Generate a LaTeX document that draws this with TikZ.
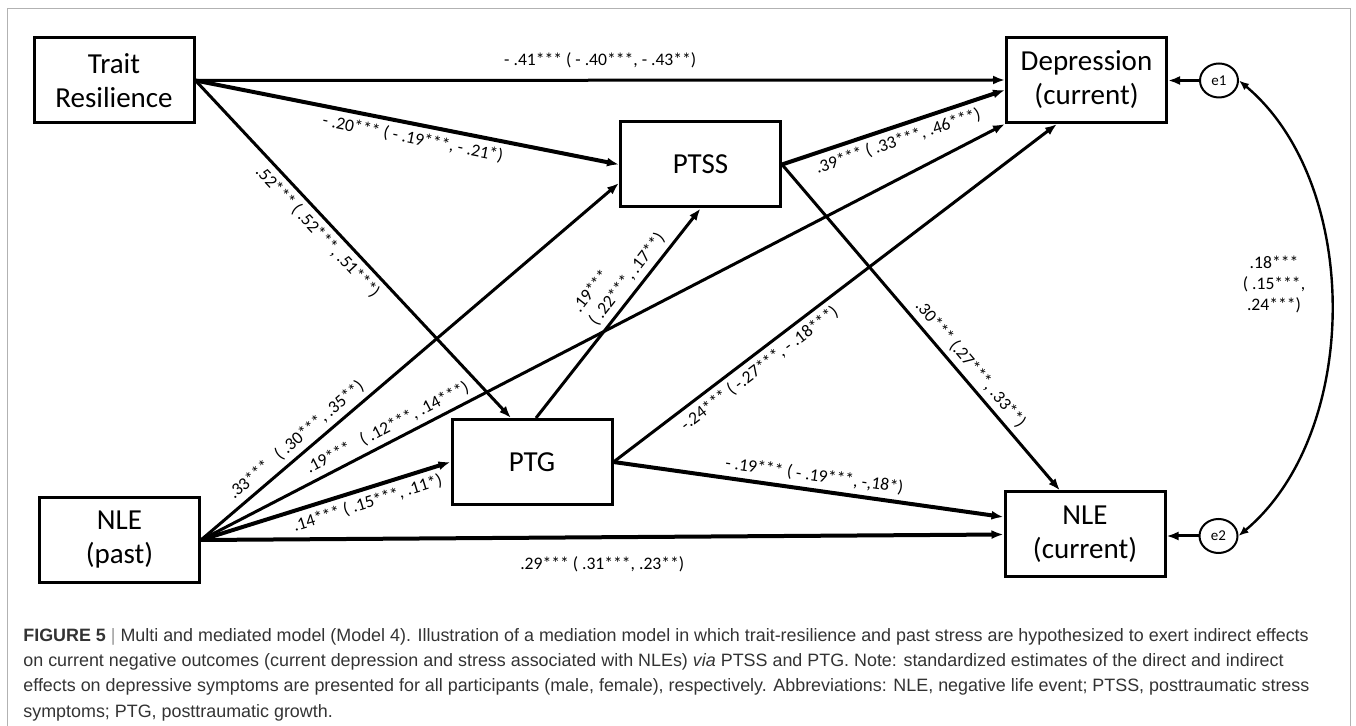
\documentclass[tikz,border=0pt]{standalone}
\usepackage{fontspec}
\setmainfont{Carlito}
\newfontfamily\capfont{Liberation Sans}
\usetikzlibrary{calc}
\usetikzlibrary{arrows.meta}
\usetikzlibrary{shapes.geometric}
\tikzset{
	var box/.style={draw, line width=1.5pt, minimum width=80pt, minimum height=42.5pt, align=center, font=\fontsize{14.5}{17}\selectfont},
	err node/.style={draw, ellipse, line width=1pt, minimum width=19pt, minimum height=17pt, inner sep=0pt, font=\fontsize{7.5}{9}\selectfont},
	coef/.style={font=\fontsize{8.8}{10.5}\selectfont, inner sep=2.5pt},
	effect/.style={->, line width=1.5pt},
	strong effect/.style={->, line width=2pt},
}

\begin{document}
\begin{tikzpicture}[x=0.5pt, y=-0.5pt, >={Latex[length=6pt,width=4.5pt]}]
	\useasboundingbox (0,0) rectangle (1356,726);
	\draw[line width=0.75pt, black!30] (7.5,726) -- (7.5,8.5) -- (1350.5,8.5) -- (1350.5,726);
	% variables
	\node[var box] (trait) at (114,80.5) {Trait\\Resilience};
	\node[var box] (ptss) at (700.5,164.5) {PTSS};
	\node[var box] (dep) at (1086.5,80) {Depression\\(current)};
	\node[var box] (ptg) at (532,462) {PTG};
	\node[var box] (nlep) at (119.5,540) {NLE\\(past)};
	\node[var box] (nlec) at (1085,534.5) {NLE\\(current)};
	\node[err node] (e1) at (1219,80.5) {e1};
	\node[err node] (e2) at (1218.5,536) {e2};
	%
	\draw[effect] (trait.east) -- (dep.west) node[coef, pos=0.5, above=3pt] (l-td) {- .41*** ( - .40***, - .43**)};
	\draw[strong effect] (trait.east) -- (ptss.west) node[coef, pos=0.52, sloped, below] (l-tp) {- .20*** ( - .19***, - .21*)};
	\draw[effect] (trait.east) -- ($(ptg.north)+(-21,0)$) node[coef, pos=0.42, sloped, below] (l-tg) {.52*** ( .52***, .51***)};
	%
	\draw[strong effect] (ptss.east) -- ($(dep.west)+(0,10)$) node[coef, pos=0.5, sloped, below] (l-pd) {.39*** ( .33***, .46***)};
	\draw[effect] (ptss.east) -- ($(nlec.north)+(-25,0)$) node[coef, pos=0.64, sloped, above] (l-pn) {.30*** (.27***, .33**)};
	%
	\draw[effect] ($(ptg.north)+(4,0)$) -- (ptss.south) node[coef, pos=0.62, sloped, above, align=left] (l-gp) {.19***\\( .22***, .17**)};
	\draw[effect] (ptg.east) -- ($(dep.south)+(-29.5,0)$) node[coef, pos=0.31, sloped, below] (l-gd) {-.24*** ( -.27***, - .18***)};
	\draw[strong effect] (ptg.east) -- ($(nlec.west)+(0,-17.5)$) node[coef, pos=0.51, sloped, above] (l-gn) {- .19*** ( - .19***, -,18*)};
	%
	\draw[effect] (nlep.east) -- ($(ptss.west)+(0,18.5)$) node[coef, pos=0.25, sloped, above] (l-np) {.33***\ \ \ ( .30***, .35**)};
	\draw[effect] (nlep.east) -- (dep.south west) node[coef, pos=0.24, sloped, above] (l-nd) {.19***\ \ \ ( .12***, .14***)};
	\draw[strong effect] (nlep.east) -- (ptg.west) node[coef, pos=0.65, sloped, below] (l-ng) {.14*** ( .15***, .11*)};
	\draw[strong effect] (nlep.east) -- (nlec.west) node[coef, pos=0.5, below=6pt] (l-nn) {.29*** ( .31***, .23**)};
	%
	\draw[effect] (e1.west) -- (e1.west -| dep.east);
	\draw[effect] (e2.west) -- (e2.west -| nlec.east);
	\draw[{Latex[length=5pt,width=4pt]}-{Latex[length=5pt,width=4pt]}, line width=1.2pt] (e1.east) .. controls ($(e1.east)+(123,103)$) and ($(e2.east)+(123,-103)$) .. (e2.east);
	\node[coef, align=center] (corr) at (1274,284) {.18***\\( .15***,\\.24***)};
	% caption
	\node[anchor=north west, inner sep=0pt, align=left, text=black!80, font=\capfont\fontsize{8.95}{12.65}\selectfont] (caption) at (23,628) {\textbf{FIGURE 5} {\color{black!40}|} Multi and mediated model (Model 4). Illustration of a mediation model in which trait-resilience and past stress are hypothesized to exert indirect effects\\on current negative outcomes (current depression and stress associated with NLEs) \textit{via} PTSS and PTG. Note: standardized estimates of the direct and indirect\\effects on depressive symptoms are presented for all participants (male, female), respectively. Abbreviations: NLE, negative life event; PTSS, posttraumatic stress\\symptoms; PTG, posttraumatic growth.};
\end{tikzpicture}
\end{document}
